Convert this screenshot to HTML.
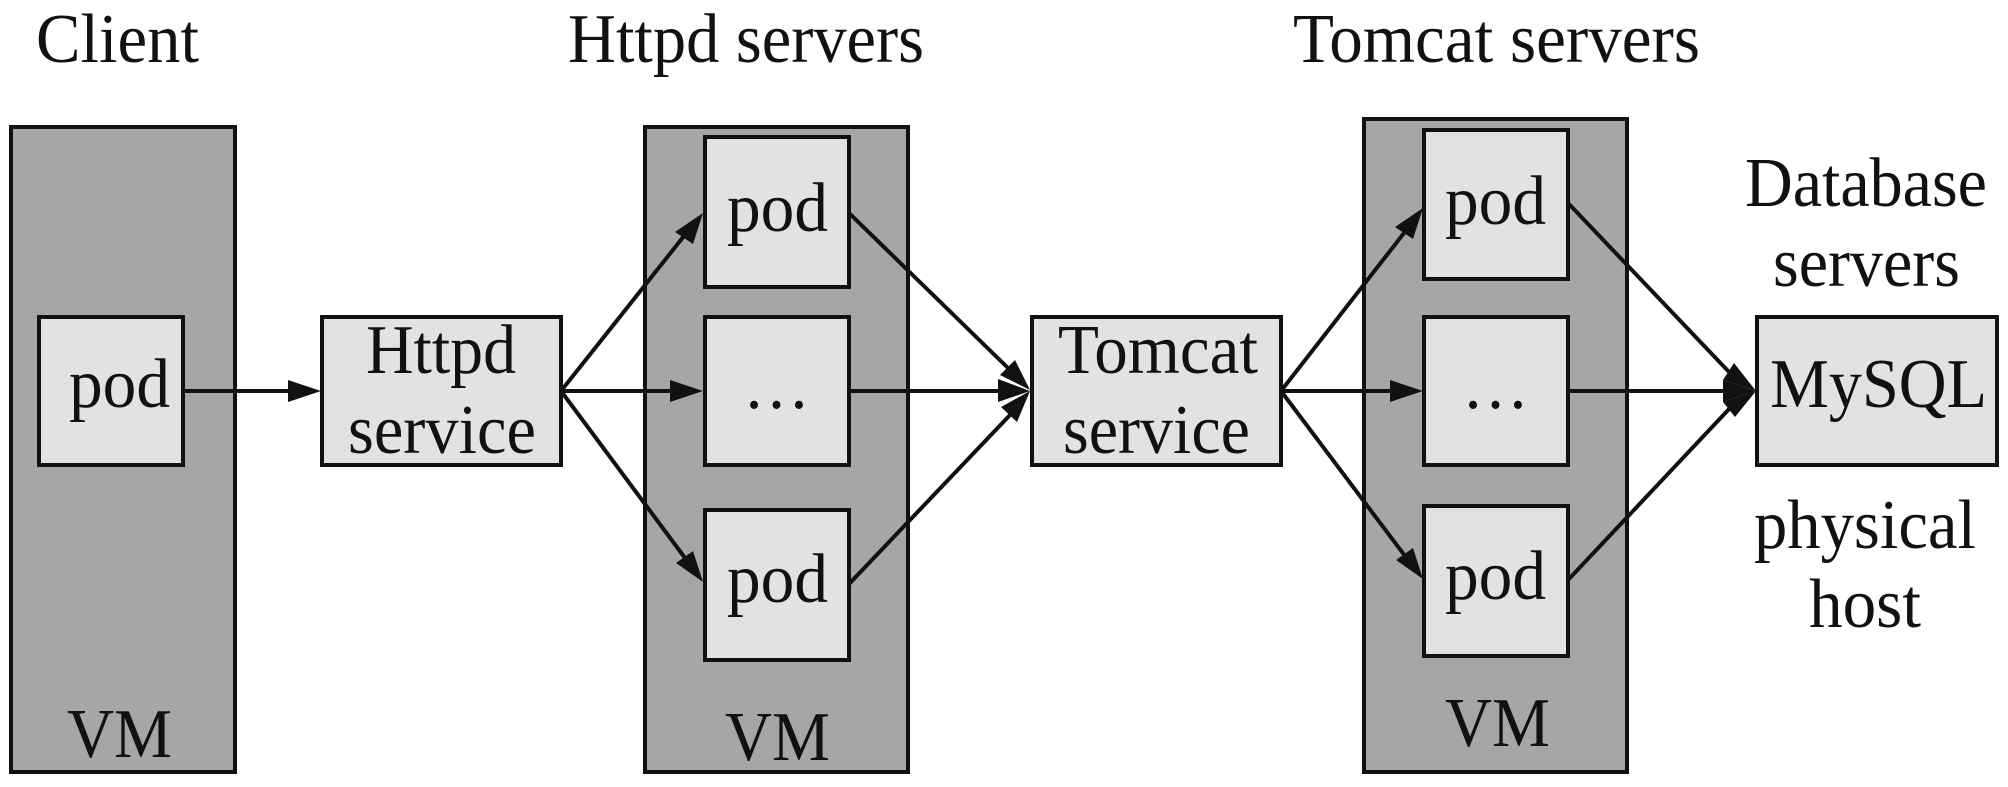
<!DOCTYPE html>
<html><head><meta charset="utf-8"><style>
html,body{margin:0;padding:0;background:#fff;width:2008px;height:787px;overflow:hidden}
svg{display:block}
text{font-family:"Liberation Serif",serif;font-size:70px;fill:#111}
.v{fill:#a6a6a6;stroke:#111;stroke-width:4}
.b{fill:#e2e2e2;stroke:#111;stroke-width:4}
.l{stroke:#111;stroke-width:4;fill:none}
.h{fill:#111}
</style></head><body>
<svg width="2008" height="787" viewBox="0 0 2008 787" xmlns="http://www.w3.org/2000/svg">
<rect class="v" x="11" y="127" width="224" height="645"/>
<rect class="v" x="645" y="127" width="263" height="645"/>
<rect class="v" x="1364" y="119" width="263" height="653"/>
<rect class="b" x="39" y="317" width="144" height="148"/>
<rect class="b" x="322" y="317" width="239" height="148"/>
<rect class="b" x="705" y="137" width="144" height="150"/>
<rect class="b" x="705" y="317" width="144" height="148"/>
<rect class="b" x="705" y="510" width="144" height="150"/>
<rect class="b" x="1032" y="317" width="249" height="148"/>
<rect class="b" x="1424" y="130" width="144" height="149"/>
<rect class="b" x="1424" y="317" width="144" height="148"/>
<rect class="b" x="1424" y="506" width="144" height="150"/>
<rect class="b" x="1757" y="317" width="240" height="148"/>
<path class="l" d="M183 391H290"/>
<path class="l" d="M561 391L684 236"/>
<path class="l" d="M561 391H672"/>
<path class="l" d="M561 391L685 558"/>
<path class="l" d="M849 213L1008 368"/>
<path class="l" d="M849 391H1000"/>
<path class="l" d="M849 584L1010 415"/>
<path class="l" d="M1281 391L1404 233"/>
<path class="l" d="M1281 391H1392"/>
<path class="l" d="M1281 391L1405 556"/>
<path class="l" d="M1568 203L1730 373"/>
<path class="l" d="M1568 391H1725"/>
<path class="l" d="M1568 580L1730 408"/>
<polygon class="h" points="321,391 288,380 288,402"/>
<polygon class="h" points="703,213 675,232 693,244"/>
<polygon class="h" points="703,391 670,380 670,402"/>
<polygon class="h" points="703,582 676,563 693,551"/>
<polygon class="h" points="1030,390 1000,375 1015,360"/>
<polygon class="h" points="1030,391 998,379 998,402"/>
<polygon class="h" points="1030,391 1001,407 1017,422"/>
<polygon class="h" points="1423,208 1395,227 1413,239"/>
<polygon class="h" points="1423,391 1390,380 1390,402"/>
<polygon class="h" points="1423,579 1396,560 1413,548"/>
<polygon class="h" points="1756,391 1734,363 1723,380"/>
<polygon class="h" points="1756,391 1723,380 1723,402"/>
<polygon class="h" points="1756,391 1735,417 1723,402"/>
<text x="36" y="62" textLength="163" lengthAdjust="spacingAndGlyphs">Client</text>
<text x="568" y="62" textLength="356" lengthAdjust="spacingAndGlyphs">Httpd servers</text>
<text x="1293" y="62" textLength="407" lengthAdjust="spacingAndGlyphs">Tomcat servers</text>
<text x="1745" y="206" textLength="242" lengthAdjust="spacingAndGlyphs">Database</text>
<text x="1773" y="286" textLength="187" lengthAdjust="spacingAndGlyphs">servers</text>
<text x="1770" y="407" textLength="217" lengthAdjust="spacingAndGlyphs">MySQL</text>
<text x="1754" y="548" textLength="222" lengthAdjust="spacingAndGlyphs">physical</text>
<text x="1809" y="627" textLength="112" lengthAdjust="spacingAndGlyphs">host</text>
<text x="69" y="407" textLength="101" lengthAdjust="spacingAndGlyphs">pod</text>
<text x="366" y="373" textLength="150" lengthAdjust="spacingAndGlyphs">Httpd</text>
<text x="348" y="453" textLength="188" lengthAdjust="spacingAndGlyphs">service</text>
<text x="727" y="231" textLength="101" lengthAdjust="spacingAndGlyphs">pod</text>
<text x="727" y="602" textLength="101" lengthAdjust="spacingAndGlyphs">pod</text>
<text x="743" y="408" textLength="67" lengthAdjust="spacingAndGlyphs">…</text>
<text x="1058" y="373" textLength="200" lengthAdjust="spacingAndGlyphs">Tomcat</text>
<text x="1063" y="453" textLength="187" lengthAdjust="spacingAndGlyphs">service</text>
<text x="1445" y="224" textLength="101" lengthAdjust="spacingAndGlyphs">pod</text>
<text x="1445" y="599" textLength="101" lengthAdjust="spacingAndGlyphs">pod</text>
<text x="1462" y="408" textLength="67" lengthAdjust="spacingAndGlyphs">…</text>
<text x="67" y="757" textLength="105" lengthAdjust="spacingAndGlyphs">VM</text>
<text x="725" y="760" textLength="105" lengthAdjust="spacingAndGlyphs">VM</text>
<text x="1445" y="746" textLength="105" lengthAdjust="spacingAndGlyphs">VM</text>
</svg>
</body></html>
